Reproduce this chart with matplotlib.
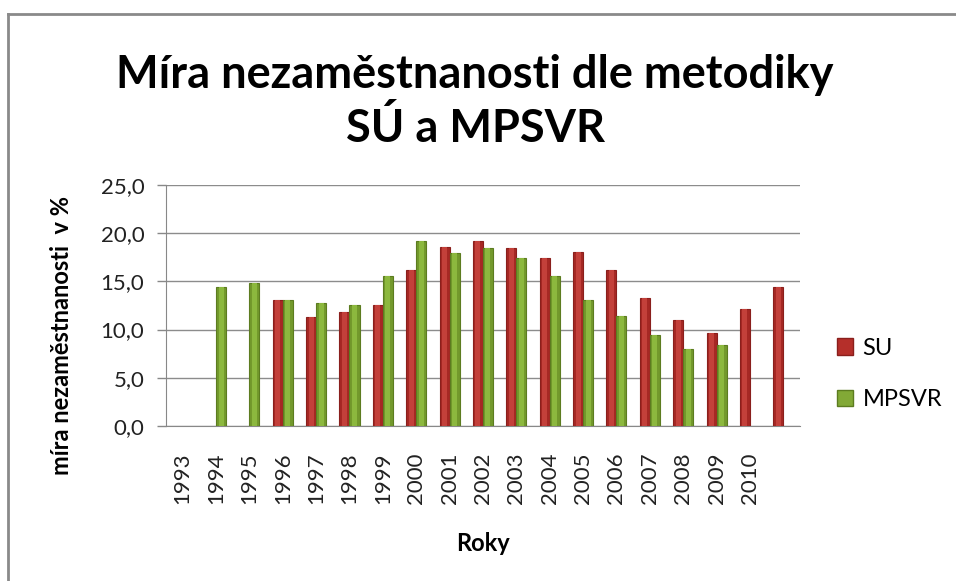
import numpy as np
import matplotlib
matplotlib.use("Agg")
import matplotlib.pyplot as plt
from matplotlib.patches import Rectangle

# kategorie (posledni bez popisku)
roky = ['1993', '1994', '1995', '1996', '1997', '1998', '1999', '2000', '2001',
        '2002', '2003', '2004', '2005', '2006', '2007', '2008', '2009', '2010', '']
su = [np.nan, np.nan, np.nan, 13.1, 11.3, 11.8, 12.5, 16.2, 18.6, 19.2,
      18.5, 17.4, 18.1, 16.2, 13.3, 11.0, 9.6, 12.1, 14.4]
mpsvr = [np.nan, 14.4, 14.8, 13.1, 12.8, 12.5, 15.6, 19.2, 17.9, 18.5,
         17.4, 15.6, 13.1, 11.4, 9.4, 8.0, 8.4, np.nan, np.nan]

font = 'Lato'
plt.rcParams['font.family'] = [font, 'DejaVu Sans']

fig = plt.figure(figsize=(9.56, 5.81), dpi=100)
ax = fig.add_axes([0.1736, 0.2668, 0.8368 - 0.1736, 0.6816 - 0.2668])

# ramecek grafu (jen horni a leva hrana)
fig.add_artist(plt.Line2D([8/956, 1], [1 - 14/581, 1 - 14/581], color='#8a8a8a', lw=2, transform=fig.transFigure))
fig.add_artist(plt.Line2D([8/956, 8/956], [0, 1 - 14/581], color='#8a8a8a', lw=2, transform=fig.transFigure))

x = np.arange(len(roky))
w = 0.3
ax.bar(x - w/2, su, w, color='#a62824', edgecolor='#8a1f1c', linewidth=0.8, label='SU', zorder=3)
ax.bar(x + w/2, mpsvr, w, color='#73992c', edgecolor='#5c7c20', linewidth=0.8, label='MPSVR', zorder=3)
# svetlejsi stred sloupcu (efekt zkoseni)
ax.bar(x - w/2, su, w*0.5, color='#c3403a', linewidth=0, zorder=4)
ax.bar(x + w/2, mpsvr, w*0.5, color='#8cb83e', linewidth=0, zorder=4)

ax.set_xlim(-0.5, len(roky) - 0.5)
ax.set_ylim(0, 25)
ax.set_yticks(np.arange(0, 26, 5))
ax.set_yticklabels([f'{v:.1f}'.replace('.', ',') for v in np.arange(0, 26, 5)], fontsize=16, color='#222222')
ax.set_xticks(x)
ax.set_xticklabels(roky, rotation=90, fontsize=16, color='#222222')
ax.tick_params(axis='x', length=0, pad=19)
ax.tick_params(axis='y', length=6.5, color='#888888', width=1, pad=9)

ax.grid(axis='y', color='#8c8c8c', lw=1, zorder=0)
for s in ['top', 'right']:
    ax.spines[s].set_visible(False)
ax.spines['left'].set_color('#888888')
ax.spines['bottom'].set_color('#888888')

ax.set_ylabel('míra nezaměstnanosti  v %', fontsize=17, fontweight='bold', va='center')
ax.yaxis.set_label_coords((62 - 166) / 634, (426 - 336) / 241)
ax.set_xlabel('Roky', fontsize=17, fontweight='bold', va='center')
ax.xaxis.set_label_coords(0.5, (426 - 544) / 241)

fig.text(0.497, 1 - 75/581, 'Míra nezaměstnanosti dle metodiky', ha='center', va='center',
         fontsize=32.5, fontweight='bold')
fig.text(0.497, 1 - 128/581, 'SÚ a MPSVR', ha='center', va='center', fontsize=32.5, fontweight='bold')

fig.legend(handles=[Rectangle((0, 0), 1, 1, fc='#b52f2a', ec='#8a1f1c'),
                    Rectangle((0, 0), 1, 1, fc='#82a936', ec='#5c7c20')],
           labels=['SU', 'MPSVR'], loc='center left', bbox_to_anchor=(0.853, 1 - 374/581),
           frameon=False, fontsize=17, handlelength=0.7, handleheight=0.7, labelspacing=1.3,
           handletextpad=0.4)

fig.savefig('out.png', dpi=100)
